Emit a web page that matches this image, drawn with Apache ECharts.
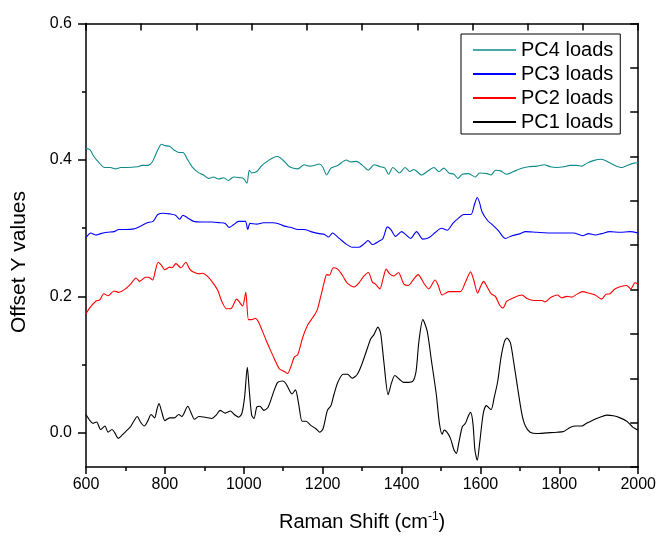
<!DOCTYPE html>
<html><head><meta charset="utf-8">
<script src="https://cdn.jsdelivr.net/npm/echarts@6/dist/echarts.min.js"></script>
<style>html,body{margin:0;padding:0;background:#fff}#c{width:659px;height:537px}</style>
</head><body><div id="c"></div>
<script>
var xTicks = [600, 800, 1000, 1200, 1400, 1600, 1800, 2000];
var yTickLabels = [0.0, 0.2, 0.4, 0.6];
var yMinorTicks = [0.1, 0.3, 0.5];
var seriesNames = ['PC4 loads', 'PC3 loads', 'PC2 loads', 'PC1 loads'];
var yTitle = 'Offset Y values';

var pc4 = [[600,0.417],[610,0.415],[620,0.405],[633,0.396],[647,0.389],[662,0.389],[675,0.387],[688,0.389],[704,0.389],[730,0.390],[742,0.392],[757,0.392],[768,0.397],[776,0.407],[784,0.417],[791,0.423],[801,0.421],[812,0.420],[822,0.415],[835,0.411],[846,0.411],[856,0.402],[869,0.390],[886,0.381],[898,0.378],[911,0.373],[923,0.375],[936,0.372],[949,0.374],[961,0.370],[974,0.375],[991,0.374],[999,0.373],[1008,0.366],[1014,0.385],[1020,0.381],[1033,0.383],[1046,0.392],[1062,0.399],[1073,0.403],[1086,0.405],[1099,0.400],[1116,0.390],[1137,0.387],[1153,0.393],[1166,0.391],[1179,0.392],[1191,0.394],[1200,0.390],[1210,0.378],[1221,0.388],[1238,0.392],[1260,0.400],[1271,0.397],[1286,0.398],[1301,0.392],[1316,0.385],[1330,0.393],[1347,0.390],[1358,0.388],[1367,0.379],[1378,0.389],[1395,0.381],[1409,0.389],[1421,0.383],[1431,0.386],[1451,0.378],[1465,0.383],[1482,0.389],[1495,0.383],[1507,0.388],[1520,0.381],[1533,0.379],[1543,0.373],[1554,0.379],[1570,0.380],[1587,0.375],[1598,0.381],[1617,0.380],[1627,0.378],[1638,0.385],[1651,0.384],[1666,0.379],[1684,0.383],[1701,0.387],[1722,0.390],[1743,0.391],[1762,0.393],[1777,0.390],[1794,0.389],[1811,0.390],[1827,0.392],[1843,0.392],[1857,0.391],[1869,0.395],[1886,0.399],[1907,0.401],[1924,0.397],[1941,0.392],[1958,0.389],[1972,0.392],[1987,0.395],[2000,0.396]];

var pc3 = [[600,0.286],[612,0.293],[625,0.290],[637,0.292],[654,0.294],[671,0.295],[683,0.298],[700,0.298],[721,0.299],[738,0.303],[755,0.308],[770,0.310],[782,0.320],[797,0.322],[812,0.321],[827,0.319],[837,0.313],[846,0.319],[858,0.315],[873,0.310],[894,0.309],[919,0.309],[940,0.308],[953,0.307],[963,0.301],[974,0.305],[987,0.310],[1004,0.310],[1010,0.298],[1016,0.307],[1033,0.306],[1050,0.308],[1073,0.308],[1086,0.307],[1103,0.303],[1120,0.301],[1137,0.298],[1153,0.298],[1170,0.295],[1191,0.292],[1204,0.291],[1215,0.287],[1225,0.293],[1242,0.285],[1259,0.277],[1275,0.272],[1292,0.272],[1305,0.277],[1315,0.282],[1326,0.276],[1343,0.281],[1353,0.285],[1364,0.302],[1373,0.298],[1385,0.288],[1400,0.295],[1410,0.291],[1423,0.285],[1438,0.295],[1454,0.284],[1469,0.286],[1486,0.294],[1501,0.300],[1516,0.297],[1530,0.307],[1543,0.314],[1558,0.320],[1576,0.320],[1585,0.335],[1592,0.345],[1598,0.337],[1604,0.324],[1617,0.312],[1632,0.304],[1646,0.296],[1663,0.285],[1680,0.289],[1701,0.292],[1714,0.295],[1743,0.294],[1785,0.293],[1836,0.293],[1859,0.289],[1874,0.292],[1891,0.290],[1907,0.292],[1928,0.295],[1954,0.294],[1979,0.295],[2000,0.293]];

var pc2 = [[600,0.175],[612,0.185],[625,0.193],[635,0.195],[645,0.204],[656,0.201],[671,0.208],[683,0.206],[700,0.211],[713,0.218],[727,0.227],[736,0.222],[751,0.228],[759,0.228],[769,0.224],[776,0.238],[783,0.250],[791,0.246],[800,0.239],[812,0.243],[818,0.242],[828,0.248],[841,0.242],[853,0.250],[863,0.240],[871,0.236],[886,0.233],[896,0.234],[907,0.230],[919,0.222],[934,0.209],[944,0.193],[956,0.182],[967,0.182],[982,0.196],[997,0.186],[1005,0.206],[1012,0.166],[1020,0.166],[1029,0.168],[1037,0.163],[1046,0.151],[1058,0.134],[1067,0.122],[1078,0.108],[1090,0.094],[1103,0.090],[1111,0.087],[1120,0.098],[1128,0.111],[1137,0.115],[1149,0.139],[1162,0.158],[1175,0.169],[1186,0.180],[1196,0.202],[1204,0.221],[1210,0.232],[1217,0.231],[1227,0.242],[1238,0.240],[1250,0.231],[1263,0.219],[1280,0.214],[1292,0.220],[1305,0.230],[1316,0.235],[1326,0.221],[1334,0.218],[1345,0.211],[1354,0.228],[1361,0.240],[1370,0.233],[1381,0.230],[1392,0.235],[1406,0.218],[1417,0.216],[1429,0.224],[1442,0.232],[1457,0.219],[1469,0.211],[1485,0.224],[1493,0.216],[1503,0.202],[1520,0.207],[1549,0.207],[1562,0.221],[1575,0.236],[1583,0.224],[1593,0.205],[1600,0.214],[1608,0.222],[1617,0.214],[1627,0.204],[1638,0.200],[1649,0.187],[1657,0.183],[1667,0.193],[1684,0.198],[1705,0.202],[1718,0.197],[1735,0.194],[1756,0.194],[1764,0.192],[1777,0.198],[1795,0.202],[1806,0.198],[1819,0.200],[1832,0.199],[1844,0.203],[1859,0.207],[1874,0.205],[1891,0.202],[1907,0.196],[1918,0.203],[1928,0.204],[1941,0.211],[1958,0.215],[1971,0.216],[1981,0.211],[1992,0.220],[2000,0.218]];

var pc1 = [[600,0.027],[610,0.018],[618,0.014],[627,0.016],[637,0.005],[648,0.010],[656,0.001],[666,0.005],[673,0.000],[682,-0.008],[692,-0.003],[704,0.004],[713,0.009],[721,0.017],[730,0.024],[738,0.016],[748,0.010],[757,0.018],[765,0.027],[774,0.022],[780,0.035],[785,0.043],[791,0.033],[800,0.018],[812,0.022],[824,0.022],[835,0.027],[843,0.024],[858,0.039],[866,0.030],[875,0.020],[886,0.024],[902,0.023],[919,0.021],[930,0.026],[940,0.033],[953,0.029],[966,0.032],[976,0.027],[987,0.023],[995,0.028],[1002,0.052],[1009,0.096],[1014,0.062],[1020,0.026],[1026,0.021],[1033,0.038],[1041,0.039],[1051,0.033],[1062,0.038],[1075,0.059],[1086,0.074],[1099,0.076],[1107,0.072],[1116,0.062],[1122,0.057],[1131,0.063],[1139,0.043],[1148,0.017],[1158,0.017],[1170,0.011],[1183,0.006],[1193,0.001],[1201,0.006],[1212,0.033],[1221,0.040],[1229,0.057],[1239,0.075],[1252,0.086],[1263,0.086],[1275,0.080],[1288,0.086],[1299,0.100],[1311,0.120],[1322,0.138],[1330,0.144],[1340,0.155],[1347,0.146],[1355,0.105],[1366,0.056],[1375,0.074],[1383,0.084],[1394,0.079],[1405,0.074],[1417,0.074],[1429,0.076],[1437,0.091],[1444,0.134],[1454,0.166],[1465,0.149],[1476,0.105],[1488,0.057],[1496,0.014],[1503,-0.002],[1508,0.004],[1515,0.001],[1524,-0.008],[1533,-0.025],[1539,-0.030],[1545,-0.015],[1554,0.009],[1562,0.014],[1568,0.023],[1575,0.030],[1581,0.014],[1586,-0.025],[1592,-0.040],[1598,-0.015],[1607,0.028],[1615,0.040],[1627,0.034],[1635,0.052],[1644,0.076],[1652,0.110],[1661,0.134],[1667,0.139],[1676,0.132],[1684,0.105],[1694,0.067],[1705,0.028],[1714,0.010],[1726,0.001],[1743,-0.001],[1768,0.000],[1794,0.001],[1811,0.002],[1827,0.008],[1843,0.010],[1857,0.010],[1869,0.014],[1886,0.019],[1903,0.023],[1920,0.026],[1937,0.025],[1954,0.022],[1971,0.017],[1987,0.008],[2000,0.004]];

var colors = ['#108a8a', '#0000ff', '#ff0000', '#000000'];
var seriesData = [pc4, pc3, pc2, pc1];

var FONT = '"Liberation Sans", Arial, sans-serif';
var axisLine = {show: true, onZero: false, lineStyle: {color: '#000', width: 1.5}};

var chart = echarts.init(document.getElementById('c'), null, {renderer: 'canvas'});
chart.setOption({
  animation: false,
  backgroundColor: '#fff',
  textStyle: {fontFamily: FONT},
  grid: {left: 86, right: 19, top: 23.5, bottom: 64.3, containLabel: false},
  graphic: [{
    type: 'text', x: 19, y: 262, rotation: Math.PI / 2,
    style: {text: yTitle, fontSize: 21, fontFamily: FONT, fill: '#000', align: 'center', verticalAlign: 'middle'}
  }],
  legend: {
    orient: 'vertical', left: 461, top: 34,
    data: seriesNames.map(function (n, i) {
      return {name: n, icon: 'rect', itemStyle: {color: colors[i], opacity: i === 0 ? 0.75 : 1}};
    }),
    backgroundColor: '#fff',
    borderColor: '#000', borderWidth: 1, borderRadius: 0,
    padding: [6, 7, 2, 12],
    itemWidth: 43, itemHeight: 2, itemGap: 4,
    textStyle: {fontSize: 20, lineHeight: 20, color: '#000', fontFamily: FONT}
  },
  xAxis: [
    {type: 'value', position: 'bottom', min: 600, max: 2000, interval: 200,
     axisLine: axisLine,
     axisTick: {show: true, inside: false, length: 7, lineStyle: {color: '#000', width: 1.5}},
     minorTick: {show: true, splitNumber: 2, length: 4, lineStyle: {color: '#000', width: 1.5}},
     axisLabel: {show: true, fontSize: 16, color: '#000', margin: 10, fontFamily: FONT,
                 formatter: function (v) { return String(v); }},
     splitLine: {show: false}, minorSplitLine: {show: false},
     name: 'Raman Shift (cm{sup|-1})', nameLocation: 'middle', nameGap: 44,
     nameTextStyle: {fontSize: 20, color: '#000', fontFamily: FONT,
       rich: {sup: {fontSize: 12, verticalAlign: 'top', padding: [0, 0, 10, 0], color: '#000', fontFamily: FONT}}}
    },
    {type: 'value', position: 'top', min: 0, max: 10, interval: 1,
     axisLine: axisLine,
     axisTick: {show: true, inside: true, length: 7, lineStyle: {color: '#000', width: 1.5}},
     axisLabel: {show: false}, splitLine: {show: false}}
  ],
  yAxis: [
    {type: 'value', position: 'left', min: -0.05, max: 0.6,
     axisLine: axisLine,
     axisTick: {show: true, inside: false, length: 8, customValues: yTickLabels, lineStyle: {color: '#000', width: 1.5}},
     axisLabel: {show: true, fontSize: 16, color: '#000', margin: 14, fontFamily: FONT,
                 customValues: yTickLabels, formatter: function (v) { return Math.abs(v).toFixed(1); }},
     splitLine: {show: false}
    },
    {type: 'value', position: 'left', min: -0.05, max: 0.6,
     axisLine: {show: false},
     axisTick: {show: true, inside: false, length: 4, customValues: yMinorTicks, lineStyle: {color: '#000', width: 1.5}},
     axisLabel: {show: false}, splitLine: {show: false}},
    {type: 'value', position: 'right', min: 0, max: 10, interval: 1,
     axisLine: axisLine,
     axisTick: {show: true, inside: true, length: 8, lineStyle: {color: '#000', width: 1.5}},
     axisLabel: {show: false}, splitLine: {show: false}}
  ],
  series: seriesNames.map(function (n, i) {
    return {
      name: n, type: 'line', xAxisIndex: 0, yAxisIndex: 0,
      data: seriesData[i], symbol: 'none', showSymbol: false, smooth: 0.25,
      lineStyle: {color: colors[i], width: 1.1}, itemStyle: {color: colors[i]},
      z: 2 + (3 - i)
    };
  })
});
</script></body></html>
